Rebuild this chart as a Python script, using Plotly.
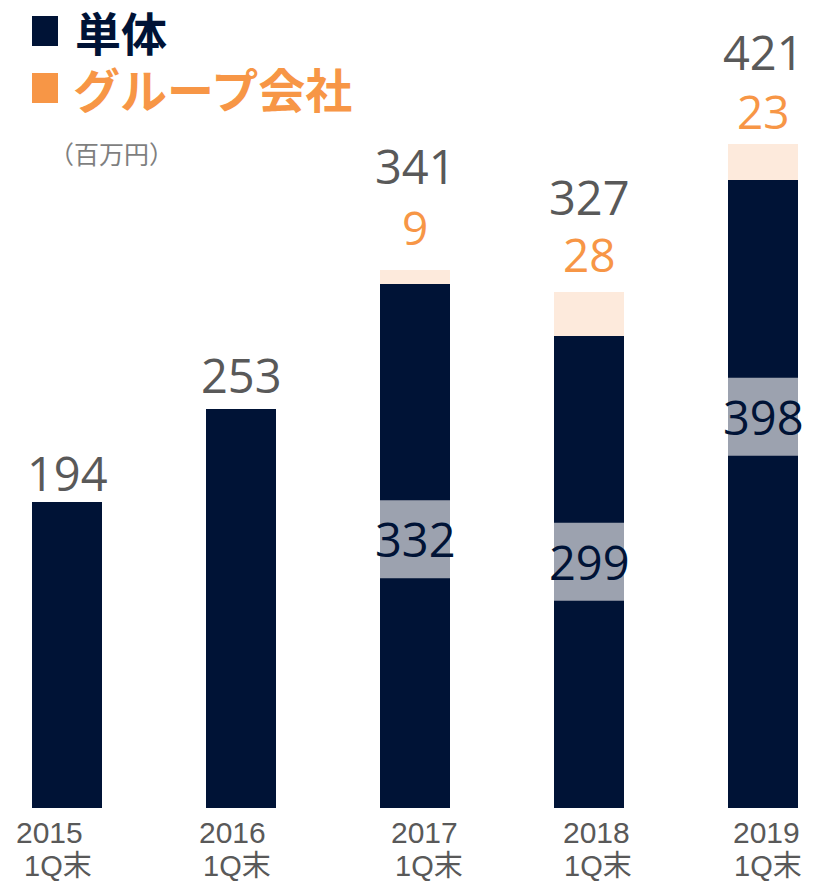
import plotly.graph_objects as go

# ---- data ----
categories = ["2015", "2016", "2017", "2018", "2019"]
cat_suffix = ["1Q末", "1Q末", "1Q末", "1Q末", "1Q末"]
solo_values = [194, 253, 332, 299, 398]
group_values = [0, 0, 9, 28, 23]
series_names = ["単体", "グループ会社"]
unit_label = "（百万円）"

# ---- styling / layout ----
NAVY = "#001336"
PEACH = "#FDEADC"
ORANGE = "#F79646"
GRAY = "#595959"
BOX = "#9CA2AF"
NUM_FONT = "Open Sans, Noto Sans, sans-serif"
TICK_FONT = "Liberation Sans, Arial, Noto Sans CJK JP, sans-serif"
CJK_FONT = "Noto Sans CJK JP, sans-serif"

W, H = 817, 885
M_B = 77
plot_h = H - M_B
px_per_unit = 1.578
y_max = plot_h / px_per_unit
cat_px = 174
first_center = 67
x_lo = -first_center / cat_px
x_hi = (len(categories) - 1) + (W - (first_center + cat_px * (len(categories) - 1))) / cat_px

idx = list(range(len(categories)))
totals = [s + g for s, g in zip(solo_values, group_values)]

fig = go.Figure()
fig.add_trace(go.Bar(x=idx, y=solo_values, name=series_names[0], marker_color=NAVY,
                     marker_line_width=0, width=70 / cat_px, showlegend=False))
fig.add_trace(go.Bar(x=idx, y=group_values, name=series_names[1], marker_color=PEACH,
                     marker_line_width=0, width=70 / cat_px, showlegend=False))

annotations = []
shapes = []

NUM_SIZE = 47

# total labels above bars (pixel offsets above bar tops)
total_shift = [29, 34, 104, 95, 92]
group_shift = [0, 0, 43, 38, 33]
for i, (s, g, t) in enumerate(zip(solo_values, group_values, totals)):
    annotations.append(dict(x=i, y=t, xref="x", yref="y", text=str(t), showarrow=False,
                            yanchor="middle", yshift=total_shift[i],
                            font=dict(family=NUM_FONT, size=NUM_SIZE, color=GRAY)))
    if g > 0:
        annotations.append(dict(x=i, y=t, xref="x", yref="y", text=str(g), showarrow=False,
                                yanchor="middle", yshift=group_shift[i],
                                font=dict(family=NUM_FONT, size=NUM_SIZE - 1, color=ORANGE)))

# inner labels (solo values) with grey boxes for stacked years
inner_pos_frac = {2: 0.513, 3: 0.522, 4: 0.623}
box_half = 39 / px_per_unit
bar_half = 35 / cat_px
for i, frac in inner_pos_frac.items():
    yc = solo_values[i] * frac
    shapes.append(dict(type="rect", xref="x", yref="y", x0=i - bar_half, x1=i + bar_half,
                       y0=yc - box_half, y1=yc + box_half, fillcolor=BOX, line_width=0,
                       layer="above"))
    annotations.append(dict(x=i, y=yc, xref="x", yref="y", text=str(solo_values[i]),
                            showarrow=False, yanchor="middle",
                            font=dict(family=NUM_FONT, size=NUM_SIZE, color=NAVY)))

# category labels
year_shift = [-18, -9, 9, 7, 3]
q_shift = [-9, -4, 14, 9, 5]
for i, (c, q) in enumerate(zip(categories, cat_suffix)):
    annotations.append(dict(x=i, y=0, xref="x", yref="paper", text=c, showarrow=False,
                            yanchor="middle", yshift=-24, xshift=year_shift[i],
                            font=dict(family=TICK_FONT, size=30, color=GRAY)))
    annotations.append(dict(x=i, y=0, xref="x", yref="paper", text=q, showarrow=False,
                            yanchor="middle", yshift=-58, xshift=q_shift[i],
                            font=dict(family=TICK_FONT, size=29, color=GRAY)))

# custom legend
def py(p):
    return 1 - p / plot_h

shapes.append(dict(type="rect", xref="paper", yref="paper", x0=32 / W, x1=58 / W,
                   y0=py(46), y1=py(16), fillcolor=NAVY, line_width=0))
shapes.append(dict(type="rect", xref="paper", yref="paper", x0=32 / W, x1=58 / W,
                   y0=py(103), y1=py(73), fillcolor=ORANGE, line_width=0))
annotations.append(dict(x=73 / W, y=py(31), xref="paper", yref="paper", text="<b>" + series_names[0] + "</b>",
                        showarrow=False, xanchor="left", yanchor="middle",
                        font=dict(family=CJK_FONT, size=46, color=NAVY)))
annotations.append(dict(x=71 / W, y=py(88), xref="paper", yref="paper", text="<b>" + series_names[1] + "</b>",
                        showarrow=False, xanchor="left", yanchor="middle",
                        font=dict(family=CJK_FONT, size=47, color=ORANGE)))
annotations.append(dict(x=112 / W, y=py(153), xref="paper", yref="paper", text=unit_label,
                        showarrow=False, xanchor="center", yanchor="middle",
                        font=dict(family=CJK_FONT, size=25, color="#7F7F7F")))

fig.update_layout(
    width=W, height=H, barmode="stack",
    margin=dict(l=0, r=0, t=0, b=M_B),
    paper_bgcolor="white", plot_bgcolor="white",
    xaxis=dict(range=[x_lo, x_hi], showticklabels=False, showgrid=False, zeroline=False,
               showline=False, ticks="", fixedrange=True),
    yaxis=dict(range=[0, y_max], visible=False, showgrid=False, zeroline=False, fixedrange=True),
    annotations=annotations, shapes=shapes, showlegend=False,
)

fig.write_html("out.html", config={"displayModeBar": False},
               post_script="document.body.style.margin='0';document.body.style.overflow='hidden';")
